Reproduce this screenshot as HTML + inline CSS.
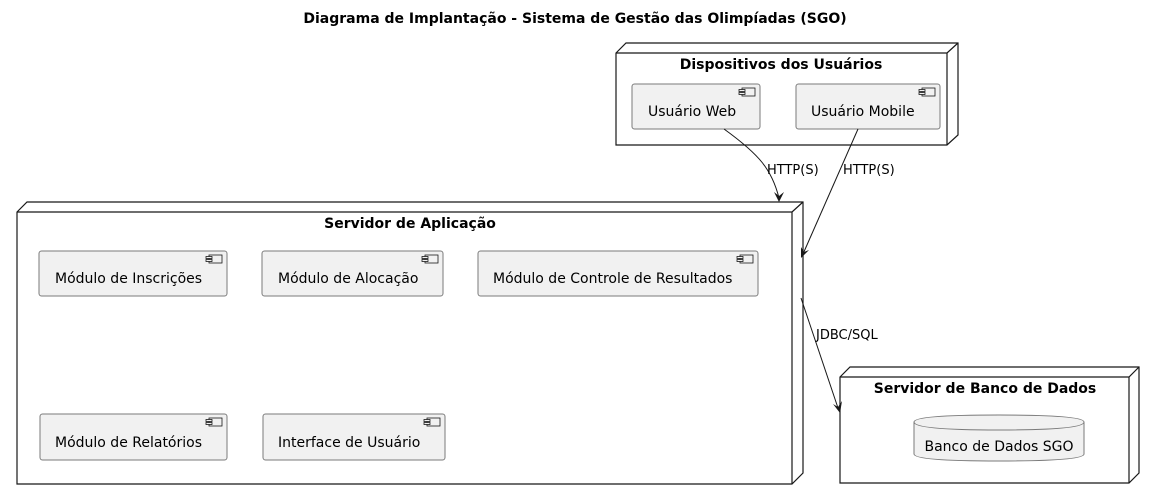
<!DOCTYPE html>
<html><head><meta charset="utf-8"><style>
html,body{margin:0;padding:0;background:#fff;}
svg{display:block;}
text{font-family:"DejaVu Sans","Liberation Sans",sans-serif;fill:#000;}
.t{font-size:14px;font-weight:bold;}
.c{font-size:14px;}
.l{font-size:13px;}
.comp{fill:#f1f1f1;stroke:#7a7a7a;stroke-width:1;}
.node{fill:#fff;stroke:#181818;stroke-width:1.2;}
</style></head><body>
<svg width="1154" height="500" viewBox="0 0 1154 500" xmlns="http://www.w3.org/2000/svg">
<defs>
<g id="ic"><rect x="3" y="0" width="13" height="8" fill="#f1f1f1" stroke="#181818" stroke-width="0.8"/><rect x="0" y="1.5" width="6" height="2" fill="#f1f1f1" stroke="#181818" stroke-width="0.8"/><rect x="0" y="4.5" width="6" height="2" fill="#f1f1f1" stroke="#181818" stroke-width="0.8"/></g>
</defs>
<text x="575" y="23" text-anchor="middle" class="t">Diagrama de Implantação - Sistema de Gestão das Olimpíadas (SGO)</text>

<!-- Dispositivos -->
<polygon class="node" points="616,53 626,43 958,43 958,135 947,145 616,145"/>
<polyline points="616,53 947,53 958,43" fill="none" stroke="#181818" stroke-width="1.2"/>
<line x1="947" y1="53" x2="947" y2="145" stroke="#181818" stroke-width="1.2"/>
<text x="781" y="69" text-anchor="middle" class="t">Dispositivos dos Usuários</text>
<rect class="comp" x="632" y="84" width="128" height="45" rx="2.5"/>
<use href="#ic" x="739" y="88"/>
<text x="648" y="116" class="c">Usuário Web</text>
<rect class="comp" x="796" y="84" width="144" height="45" rx="2.5"/>
<use href="#ic" x="919" y="88"/>
<text x="811" y="116" class="c">Usuário Mobile</text>

<!-- Servidor de Aplicação -->
<polygon class="node" points="17,212 27,202 803,202 803,473 792,484 17,484"/>
<polyline points="17,212 792,212 803,202" fill="none" stroke="#181818" stroke-width="1.2"/>
<line x1="792" y1="212" x2="792" y2="484" stroke="#181818" stroke-width="1.2"/>
<text x="410" y="228" text-anchor="middle" class="t">Servidor de Aplicação</text>
<rect class="comp" x="39" y="251" width="188" height="45" rx="2.5"/>
<use href="#ic" x="206" y="255"/>
<text x="55" y="283" class="c">Módulo de Inscrições</text>
<rect class="comp" x="262" y="251" width="181" height="45" rx="2.5"/>
<use href="#ic" x="422" y="255"/>
<text x="278" y="283" class="c">Módulo de Alocação</text>
<rect class="comp" x="478" y="251" width="280" height="45" rx="2.5"/>
<use href="#ic" x="737" y="255"/>
<text x="493" y="283" class="c">Módulo de Controle de Resultados</text>
<rect class="comp" x="40" y="414" width="187" height="46" rx="2.5"/>
<use href="#ic" x="206" y="418"/>
<text x="55" y="447" class="c">Módulo de Relatórios</text>
<rect class="comp" x="263" y="414" width="182" height="46" rx="2.5"/>
<use href="#ic" x="424" y="418"/>
<text x="278" y="447" class="c">Interface de Usuário</text>

<!-- Banco -->
<polygon class="node" points="840,377 850,367 1139,367 1139,473 1129,483 840,483"/>
<polyline points="840,377 1129,377 1139,367" fill="none" stroke="#181818" stroke-width="1.2"/>
<line x1="1129" y1="377" x2="1129" y2="483" stroke="#181818" stroke-width="1.2"/>
<text x="985" y="393" text-anchor="middle" class="t">Servidor de Banco de Dados</text>
<path d="M914,422 Q914,415 999,415 Q1084,415 1084,422 L1084,454 Q1084,461 999,461 Q914,461 914,454 Z" class="comp"/>
<path d="M914,422 Q914,430 999,430 Q1084,430 1084,422" fill="none" stroke="#7a7a7a"/>
<text x="999" y="451" text-anchor="middle" class="c">Banco de Dados SGO</text>

<!-- arrows -->
<path d="M724,129 C760,155 772,170 779,198" fill="none" stroke="#181818" stroke-width="1"/>
<polygon points="779,202 774,192 779,196 784,192" fill="#181818"/>
<text x="767" y="174" class="l">HTTP(S)</text>
<path d="M858,129 L803,254" fill="none" stroke="#181818" stroke-width="1"/>
<polygon points="801,258 801,247 804,252 809,250" fill="#181818"/>
<text x="843" y="174" class="l">HTTP(S)</text>
<path d="M801,298 L838,408" fill="none" stroke="#181818" stroke-width="1"/>
<polygon points="840,413 833,404 838,407 842,401" fill="#181818"/>
<text x="816" y="339" class="l">JDBC/SQL</text>
</svg>
</body></html>
